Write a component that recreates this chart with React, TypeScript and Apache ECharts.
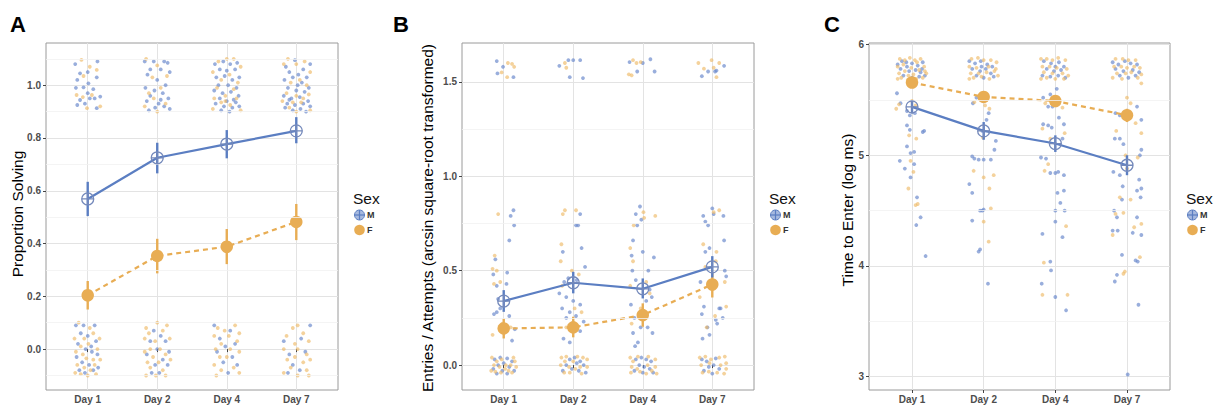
import React, { useEffect, useRef } from 'react';
import * as echarts from 'echarts';

const days = ['Day 1', 'Day 2', 'Day 4', 'Day 7'];
const dayPos = [1, 2, 3, 4];

// ---------- Panel A: Proportion Solving ----------
const aTicks = [0, 0.2, 0.4, 0.6, 0.8, 1.0];
const aMinor = [-0.1, 0.1, 0.3, 0.5, 0.7, 0.9, 1.1];
const aMeanM = [0.569, 0.725, 0.777, 0.827];
const aLoM = [0.504, 0.666, 0.723, 0.78];
const aHiM = [0.634, 0.782, 0.83, 0.879];
const aMeanF = [0.204, 0.353, 0.388, 0.482];
const aLoF = [0.15, 0.287, 0.322, 0.413];
const aHiF = [0.258, 0.418, 0.455, 0.55];
const aPtsM = [
  [0.82,1.08],[1.14,1.09],[1.0,1.05],[0.89,1.045],[0.85,1.02],[1.13,1.03],[1.01,1.007],[0.94,0.992],[1.08,0.985],[0.83,0.99],[1.18,0.957],[0.89,0.944],[1.03,0.95],[0.96,0.93],[1.13,0.913],[0.85,0.925],[1.1,0.95],[1.0,0.97],
  [1.82,1.09],[1.95,1.09],[2.1,1.09],[2.15,1.085],[1.9,1.06],[2.05,1.06],[2.18,1.05],[1.86,1.04],[2.0,1.02],[2.12,1.0],[1.83,0.99],[1.96,0.98],[2.08,0.97],[1.9,0.96],[2.16,0.95],[1.85,0.94],[2.02,0.93],[1.97,0.915],[2.1,0.92],[1.88,0.905],[2.18,0.91],[2.05,0.945],
  [2.83,1.08],[2.95,1.09],[3.05,1.08],[3.15,1.085],[2.9,1.06],[3.0,1.055],[3.12,1.06],[2.85,1.03],[2.97,1.035],[3.08,1.02],[3.18,1.03],[2.88,1.0],[3.02,1.0],[3.14,0.99],[2.82,0.98],[2.94,0.97],[3.06,0.975],[3.17,0.96],[2.9,0.95],[3.0,0.94],[3.1,0.945],[2.84,0.93],[2.96,0.92],[3.08,0.915],[3.18,0.92],[2.92,0.905],[3.04,0.9],[3.13,0.935],
  [3.85,1.07],[3.98,1.095],[4.1,1.06],[4.2,1.08],[3.9,1.05],[4.03,1.04],[4.15,1.03],[3.83,1.02],[3.95,1.03],[4.08,1.01],[4.18,0.99],[3.88,0.99],[4.0,0.98],[4.12,0.975],[3.82,0.96],[3.93,0.95],[4.05,0.955],[4.17,0.94],[3.87,0.93],[3.98,0.925],[4.1,0.93],[4.2,0.92],[3.84,0.915],[3.95,0.905],[4.06,0.91],[4.14,0.9],[3.9,0.945],[4.02,1.0],
  [0.83,0.09],[0.94,0.09],[1.1,0.09],[0.9,0.06],[1.0,0.05],[0.86,0.02],[1.12,0.03],[0.97,0.0],[1.06,-0.01],[0.84,-0.03],[1.14,-0.02],[0.92,-0.05],[1.02,-0.06],[0.88,-0.08],[1.08,-0.08],[0.96,-0.09],[1.15,-0.07],[1.05,0.01],
  [1.95,0.07],[2.05,0.05],[1.9,0.03],[2.12,0.03],[2.0,0.0],[2.17,-0.01],[1.85,-0.02],[2.08,-0.04],[1.97,-0.06],[2.15,-0.06],[1.92,-0.09],[2.03,-0.09],
  [2.82,0.09],[3.05,0.07],[2.9,0.04],[2.98,0.01],[3.12,0.02],[2.86,-0.01],[3.08,-0.03],[2.95,-0.05],[3.15,-0.06],[3.02,-0.09],
  [3.82,0.03],[4.07,0.04],[4.2,0.09],[3.9,-0.02],[4.13,-0.01],[3.95,-0.06],[4.05,-0.08],[3.88,-0.09],
];
const aPtsF = [
  [0.91,1.096],[1.03,1.07],[1.13,1.058],[0.94,1.035],[0.84,0.963],[1.06,0.963],[0.93,0.955],[1.18,0.92],[0.99,0.913],
  [1.84,1.1],[2.0,1.075],[1.93,1.03],[2.14,1.035],[1.88,0.97],[2.05,0.99],[1.95,0.95],[2.12,0.93],[1.82,0.92],[2.0,0.9],
  [3.0,1.1],[3.1,1.1],[2.88,1.09],[3.2,1.07],[2.8,1.05],[3.04,1.04],[2.92,1.02],[3.16,1.01],[2.86,0.99],[3.1,0.985],[2.98,0.96],[2.82,0.95],[3.14,0.95],[2.92,0.935],[3.05,0.925],[2.8,0.91],[3.2,0.905],[2.98,0.94],
  [3.88,1.1],[4.0,1.08],[4.12,1.09],[3.82,1.08],[4.2,1.05],[3.92,1.01],[4.05,1.02],[4.15,1.0],[3.86,0.97],[4.0,0.96],[4.1,0.95],[3.8,0.94],[3.95,0.935],[4.18,0.965],[4.07,0.935],[3.9,0.915],[4.2,0.905],[4.0,0.9],
  [0.87,0.1],[1.03,0.08],[0.81,0.04],[0.95,0.04],[1.08,0.06],[1.17,0.04],[0.9,0.01],[1.01,0.02],[1.14,0.0],[0.83,-0.01],[0.93,-0.02],[1.08,-0.04],[0.98,-0.035],[1.18,-0.04],[0.85,-0.06],[0.95,-0.07],[1.1,-0.06],[0.82,-0.09],[1.0,-0.1],[1.12,-0.095],[0.9,-0.095],[1.04,-0.08],
  [1.84,0.08],[2.0,0.1],[2.14,0.09],[1.88,0.06],[2.08,0.07],[1.82,0.04],[1.97,0.03],[2.18,0.04],[1.9,0.0],[2.04,0.0],[1.82,-0.01],[2.12,-0.02],[1.94,-0.03],[1.86,-0.05],[2.02,-0.05],[2.19,-0.04],[1.9,-0.07],[2.08,-0.08],[1.84,-0.1],[1.98,-0.1],[2.12,-0.1],
  [2.87,0.08],[2.97,0.07],[3.12,0.09],[3.18,0.06],[2.82,0.05],[3.03,0.05],[2.92,0.02],[3.15,0.03],[2.84,0.0],[3.05,0.0],[3.18,-0.01],[2.9,-0.03],[3.0,-0.03],[2.82,-0.06],[3.1,-0.07],[2.92,-0.08],[3.18,-0.09],[2.85,-0.1],
  [3.95,0.08],[4.02,0.09],[4.1,0.06],[3.86,0.05],[3.98,0.02],[4.18,0.03],[3.82,0.0],[4.02,0.0],[4.15,-0.02],[3.87,-0.04],[3.98,-0.03],[4.1,-0.05],[4.2,-0.04],[3.92,-0.07],[4.15,-0.08],[3.82,-0.09],[4.02,-0.1],[4.18,-0.1],
];

// ---------- Panel B: Entries / Attempts ----------
const bTicks = [0, 0.5, 1.0, 1.5];
const bMinor = [0.25, 0.75, 1.25];
const bMeanM = [0.339, 0.436, 0.404, 0.52];
const bLoM = [0.282, 0.38, 0.353, 0.464];
const bHiM = [0.397, 0.494, 0.459, 0.577];
const bMeanF = [0.194, 0.2, 0.265, 0.427];
const bLoF = [0.141, 0.147, 0.203, 0.358];
const bHiF = [0.247, 0.256, 0.327, 0.489];
const bPtsM = [
  [0.9,1.61],[0.99,1.58],[0.91,1.545],[1.14,1.525],
  [1.8,1.585],[1.93,1.615],[2.0,1.615],[2.1,1.615],[1.95,1.525],[2.14,1.52],
  [2.81,1.605],[2.92,1.555],[3.0,1.6],[3.11,1.62],[3.17,1.555],
  [3.85,1.53],[3.94,1.555],[4.04,1.555],[4.17,1.585],[4.06,1.56],
  [1.14,0.82],[1.1,0.79],[1.15,0.74],[1.08,0.66],[0.88,0.56],[0.85,0.48],[0.9,0.42],[1.05,0.49],[1.04,0.43],[0.92,0.35],[0.86,0.27],[0.9,0.28],[1.08,0.26],[1.16,0.19],[1.12,0.13],[0.95,0.3],
  [2.1,0.8],[2.04,0.74],[2.07,0.74],[1.85,0.6],[2.12,0.62],[2.17,0.52],[1.87,0.44],[1.93,0.46],[2.05,0.45],[1.8,0.38],[1.9,0.36],[2.0,0.34],[2.1,0.32],[1.84,0.3],[1.95,0.28],[2.04,0.26],[1.9,0.25],[1.98,0.22],[2.15,0.23],[1.86,0.14],[1.95,0.12],[2.1,0.18],
  [2.96,0.84],[2.9,0.8],[2.98,0.77],[2.92,0.74],[2.86,0.66],[3.0,0.6],[2.84,0.58],[3.16,0.57],[3.08,0.5],[2.85,0.5],[2.9,0.45],[3.1,0.4],[3.13,0.36],[3.05,0.34],[2.83,0.32],[2.88,0.25],[2.97,0.2],[2.86,0.17],[3.07,0.2],[2.93,0.12],[2.89,0.1],[3.14,0.17],
  [4.0,0.83],[3.87,0.79],[3.94,0.74],[4.02,0.8],[4.16,0.79],[3.9,0.76],[4.17,0.66],[3.96,0.62],[3.9,0.6],[4.18,0.5],[4.2,0.47],[3.83,0.44],[3.88,0.31],[3.85,0.27],[4.1,0.3],[4.15,0.25],[3.93,0.2],[4.07,0.22],[3.86,0.14],[4.12,0.3],[4.05,0.24],[3.96,0.16],
  [0.87,0.03],[0.95,0.04],[1.05,0.035],[1.12,0.02],[0.92,0.0],[1.0,0.01],[1.08,-0.01],[0.85,-0.02],[0.98,-0.03],[1.15,-0.03],[0.9,-0.045],[1.05,-0.045],
  [1.95,0.03],[2.02,0.04],[2.1,0.02],[1.9,0.0],[2.05,0.01],[2.15,0.0],[1.98,-0.02],[2.08,-0.03],[1.85,-0.03],[2.18,-0.04],
  [2.9,0.03],[2.98,0.04],[3.05,0.03],[3.12,0.02],[2.95,0.0],[3.02,-0.01],[3.1,-0.02],[2.88,-0.03],[3.0,-0.04],[3.15,-0.04],
  [3.85,0.03],[3.92,0.02],[4.05,0.035],[3.95,-0.01],[4.02,0.0],[3.88,-0.03],[4.1,-0.02],[4.0,-0.045],
];
const bPtsF = [
  [1.06,1.6],[1.12,1.595],[1.15,1.58],[1.05,1.525],[0.97,1.55],
  [1.88,1.6],[1.9,1.575],
  [2.86,1.615],[2.91,1.6],[2.8,1.54],[2.84,1.535],[2.97,1.605],
  [3.8,1.6],[3.88,1.57],[3.99,1.615],[4.1,1.6],[4.02,1.575],[4.06,1.525],
  [0.92,0.8],[0.87,0.58],[0.84,0.51],[0.86,0.43],[0.95,0.44],[0.84,0.16],[1.1,0.2],[0.98,0.22],[0.9,0.5],
  [1.88,0.82],[1.85,0.8],[2.04,0.82],[1.83,0.64],[1.82,0.55],[1.98,0.5],[2.08,0.48],[1.84,0.42],[2.02,0.3],[2.12,0.28],[1.9,0.2],
  [3.01,0.81],[3.02,0.78],[2.87,0.74],[3.18,0.79],[2.82,0.62],[2.86,0.55],[3.05,0.44],[2.82,0.42],[3.1,0.38],[2.97,0.3],[2.84,0.22],
  [4.02,0.81],[4.1,0.82],[3.87,0.64],[4.06,0.6],[4.05,0.55],[3.9,0.52],[4.18,0.44],[3.82,0.36],[4.2,0.31],[4.04,0.26],[3.92,0.2],
  [0.83,0.04],[0.9,0.02],[0.97,0.03],[1.03,0.0],[1.14,0.04],[0.86,0.0],[0.94,-0.01],[1.1,0.0],[1.18,-0.01],[0.82,-0.03],[0.96,-0.04],[1.02,-0.02],[1.12,-0.04],[0.88,-0.035],[1.07,-0.03],[1.16,0.02],
  [1.83,0.04],[1.88,0.02],[2.0,0.02],[2.14,0.04],[2.2,0.03],[1.82,0.0],[1.94,-0.01],[2.1,-0.01],[2.2,-0.01],[1.87,-0.04],[1.95,-0.04],[2.03,-0.02],[2.12,-0.045],[2.06,0.045],[1.9,0.045],
  [2.82,0.04],[2.86,0.02],[2.93,0.045],[3.08,0.045],[3.18,0.03],[2.84,-0.01],[2.92,-0.02],[3.07,0.0],[3.18,-0.01],[2.83,-0.04],[2.96,-0.035],[3.05,-0.045],[3.13,-0.03],[3.2,-0.045],
  [3.82,0.04],[3.9,0.045],[3.98,0.03],[4.1,0.04],[4.18,0.045],[3.84,0.0],[3.96,0.01],[4.12,0.0],[4.2,0.01],[3.86,-0.04],[3.95,-0.035],[4.07,-0.04],[4.17,-0.045],[4.2,-0.02],
];

// ---------- Panel C: Time to Enter ----------
const cTicks = [3, 4, 5, 6];
const cMinor = [3.5, 4.5, 5.5];
const cMeanM = [5.437, 5.22, 5.106, 4.91];
const cLoM = [5.377, 5.14, 5.03, 4.82];
const cHiM = [5.497, 5.3, 5.18, 5.0];
const cMeanF = [5.657, 5.527, 5.49, 5.362];
const cLoF = [5.62, 5.48, 5.44, 5.3];
const cHiF = [5.7, 5.57, 5.54, 5.42];
const cPtsM = [
  [0.8,5.82],[0.86,5.85],[0.93,5.8],[1.0,5.83],[1.08,5.81],[1.15,5.84],[0.84,5.78],[0.96,5.76],[1.05,5.77],[1.12,5.75],[0.88,5.72],[1.0,5.7],[1.1,5.71],[1.18,5.72],[0.92,5.84],[1.14,5.78],
  [0.79,5.56],[0.84,5.47],[0.93,5.4],[0.97,5.36],[1.04,5.38],[0.93,5.27],[0.97,5.23],[1.17,5.22],[1.15,5.21],[0.93,5.08],[0.98,5.02],[1.03,5.03],[0.83,4.95],[0.9,4.88],[1.03,4.92],[0.98,4.8],[1.07,4.62],[1.12,4.44],[1.06,4.37],[1.19,4.09],
  [1.8,5.85],[1.88,5.83],[1.96,5.85],[2.05,5.82],[2.12,5.8],[1.84,5.78],[1.95,5.76],[2.03,5.78],[2.1,5.74],[1.9,5.72],[2.0,5.7],[2.14,5.71],[1.97,5.8],
  [1.85,5.47],[1.9,5.52],[2.07,5.38],[2.04,5.32],[1.98,5.22],[2.17,5.13],[2.15,5.05],[1.84,4.99],[1.87,4.97],[1.93,4.96],[2.0,4.96],[2.1,4.96],[1.8,4.74],[1.84,4.66],[1.98,4.5],[1.95,4.5],[2.0,4.51],[1.84,4.41],[1.95,4.15],[1.93,4.13],[2.06,3.84],
  [2.84,5.85],[2.94,5.83],[3.05,5.84],[3.12,5.8],[2.88,5.78],[2.98,5.76],[3.08,5.77],[2.82,5.72],[2.93,5.71],[3.04,5.72],[3.14,5.7],[3.0,5.8],
  [2.83,5.52],[2.93,5.55],[3.02,5.6],[2.9,5.44],[2.96,5.44],[3.05,5.34],[3.12,5.28],[2.83,5.28],[2.9,5.27],[2.95,5.25],[3.1,5.15],[2.8,4.98],[2.87,4.97],[2.93,4.84],[3.0,4.84],[3.04,4.85],[3.12,4.82],[3.03,4.66],[3.12,4.68],[3.07,4.57],[3.13,4.5],[3.0,4.5],[3.0,4.4],[2.82,4.29],[3.1,4.26],[2.93,4.04],[2.94,3.96],[2.81,3.84],[3.0,3.72],[3.15,3.6],
  [3.8,5.84],[3.88,5.82],[3.97,5.85],[4.05,5.83],[4.14,5.82],[3.84,5.78],[3.95,5.76],[4.08,5.77],[4.17,5.75],[3.9,5.72],[4.02,5.7],[4.12,5.72],
  [3.84,5.38],[3.9,5.36],[4.14,5.44],[4.2,5.32],[3.83,5.15],[3.9,5.15],[3.95,5.1],[4.2,5.05],[4.18,5.0],[3.81,4.85],[3.9,4.82],[3.94,4.72],[4.17,4.78],[4.2,4.7],[4.14,4.68],[4.19,4.62],[3.82,4.5],[3.93,4.6],[3.86,4.44],[3.8,4.32],[3.87,4.32],[4.14,4.44],[4.08,4.3],[4.2,4.28],[3.93,4.1],[3.86,3.92],[3.83,3.86],[4.12,4.05],[4.15,4.04],[4.16,3.65],[4.01,3.02],
];
const cPtsF = [
  [0.83,5.87],[0.9,5.86],[0.97,5.88],[1.04,5.86],[1.12,5.87],[0.8,5.8],[0.88,5.82],[0.99,5.79],[1.07,5.84],[1.17,5.8],[0.82,5.74],[0.9,5.76],[1.02,5.73],[1.1,5.77],[1.18,5.76],[0.85,5.7],[0.95,5.72],[1.06,5.69],[1.15,5.7],[0.8,5.69],[0.94,5.68],[1.2,5.74],
  [0.78,5.42],[0.82,5.46],[1.0,5.49],[1.05,5.45],[0.96,5.18],[1.06,5.15],[0.98,4.95],[1.02,4.85],[0.95,4.7],[1.08,4.56],[1.05,4.55],
  [1.83,5.87],[1.92,5.88],[2.0,5.86],[2.1,5.86],[2.18,5.84],[1.8,5.8],[1.9,5.79],[2.07,5.8],[2.17,5.78],[1.82,5.74],[1.93,5.74],[2.04,5.75],[2.15,5.76],[1.86,5.7],[1.97,5.71],[2.08,5.69],[2.2,5.72],[1.8,5.69],
  [1.87,5.48],[2.02,5.45],[2.08,5.42],[1.99,5.16],[1.86,4.86],[2.0,4.8],[2.14,4.82],[2.08,4.7],[2.1,4.52],[2.0,4.4],[2.07,4.22],
  [2.8,5.87],[2.88,5.87],[2.96,5.86],[3.04,5.88],[3.14,5.86],[2.82,5.8],[2.92,5.8],[3.02,5.79],[3.16,5.78],[2.84,5.75],[2.96,5.74],[3.1,5.74],[3.18,5.72],[2.88,5.7],[3.0,5.69],[3.12,5.69],[2.8,5.69],
  [2.86,5.47],[3.0,5.52],[3.1,5.43],[2.82,5.24],[2.93,5.15],[3.13,5.2],[2.9,4.92],[2.85,4.86],[3.15,4.36],[2.84,4.03],[2.82,3.74],[3.17,3.74],
  [3.84,5.87],[3.94,5.87],[4.02,5.86],[4.12,5.86],[3.82,5.8],[3.92,5.8],[4.0,5.79],[4.1,5.8],[4.18,5.79],[3.86,5.74],[3.98,5.74],[4.06,5.75],[4.2,5.73],[3.8,5.7],[3.93,5.69],[4.15,5.7],[4.2,5.65],
  [4.0,5.52],[4.05,5.47],[4.12,5.29],[4.2,5.2],[3.85,5.22],[3.98,5.0],[4.0,4.88],[4.15,4.98],[3.9,4.62],[3.84,4.47],[3.95,4.48],[4.05,4.6],[4.1,4.35],[4.2,4.38],[3.8,4.28],[4.18,4.08],[3.97,3.95],[3.95,3.93],
];

const FONT = '"Liberation Sans", Arial, Helvetica, sans-serif';
const BLUE = '#5b7ec2';
const BLUE_RING = '#7489bb';
const ORANGE = '#e8ad54';
const PT_BLUE = 'rgba(104,136,204,0.85)';
const PT_ORANGE = 'rgba(238,185,100,0.8)';
const GRID_MAJOR = '#e3e3e3';
const GRID_MINOR = '#f1f1f1';

const M_SYMBOL = 'path://M10,0 A10,10 0 1,1 -10,0 A10,10 0 1,1 10,0 Z M-10,0 L10,0 M0,-10 L0,10';

function App() {
  const ref = useRef<HTMLDivElement>(null);

  useEffect(() => {
    if (!ref.current) return;
    const chart = echarts.init(ref.current, undefined, { renderer: 'svg' });

    const panels = [
      { grid: { left: 46, top: 43, width: 292, height: 347 }, yMin: -0.155, yMax: 1.16, ticks: aTicks, minor: aMinor,
        fmt: (v: number) => v.toFixed(1), ptsM: aPtsM, ptsF: aPtsF, meanM: aMeanM, loM: aLoM, hiM: aHiM, meanF: aMeanF, loF: aLoF, hiF: aHiF },
      { grid: { left: 462, top: 43, width: 292, height: 347 }, yMin: -0.132, yMax: 1.706, ticks: bTicks, minor: bMinor,
        fmt: (v: number) => v.toFixed(1), ptsM: bPtsM, ptsF: bPtsF, meanM: bMeanM, loM: bLoM, hiM: bHiM, meanF: bMeanF, loF: bLoF, hiF: bHiF },
      { grid: { left: 869, top: 43, width: 301, height: 347 }, yMin: 2.88, yMax: 6.014, ticks: cTicks, minor: cMinor,
        fmt: (v: number) => String(Math.round(v)), ptsM: cPtsM, ptsF: cPtsF, meanM: cMeanM, loM: cLoM, hiM: cHiM, meanF: cMeanF, loF: cLoF, hiF: cHiF },
    ];

    const grids: any[] = [];
    const xAxes: any[] = [];
    const yAxes: any[] = [];
    const series: any[] = [];

    const errRender = (color: string) => (params: any, api: any) => {
      const x = api.value(0);
      const p1 = api.coord([x, api.value(1)]);
      const p2 = api.coord([x, api.value(2)]);
      return { type: 'line', shape: { x1: p1[0], y1: p1[1], x2: p2[0], y2: p2[1] }, style: { stroke: color, lineWidth: 2.4 } };
    };

    const labelStyle = { color: '#4d4d4d', fontSize: 10, fontWeight: 'bold', fontFamily: FONT };

    panels.forEach((p, i) => {
      grids.push({ ...p.grid, show: true, backgroundColor: '#fff', borderColor: '#9a9a9a', borderWidth: 1, containLabel: false });
      xAxes.push({
        type: 'value', gridIndex: i, min: 0.4, max: 4.6,
        axisLine: { show: false },
        axisTick: { show: true, length: 3, lineStyle: { color: '#444' }, customValues: dayPos },
        axisLabel: { show: true, customValues: dayPos, formatter: (v: number) => days[Math.round(v) - 1] ?? '', margin: 4, ...labelStyle },
        splitLine: { show: true, lineStyle: { color: GRID_MAJOR, width: 1 } },
      });
      yAxes.push({
        type: 'value', gridIndex: i, min: p.yMin, max: p.yMax,
        axisLine: { show: false },
        axisTick: { show: true, length: 3, lineStyle: { color: '#444' }, customValues: p.ticks },
        axisLabel: { show: true, customValues: p.ticks, formatter: p.fmt, margin: 5, ...labelStyle },
        splitLine: { show: true, lineStyle: { color: GRID_MAJOR, width: 1 } },
      });
      // minor grid lines
      series.push({
        type: 'line', xAxisIndex: i, yAxisIndex: i, data: [], silent: true, z: 1,
        markLine: { silent: true, symbol: 'none', animation: false, label: { show: false },
          lineStyle: { color: GRID_MINOR, width: 0.8, type: 'solid' },
          data: p.minor.map((v) => ({ yAxis: v })) },
      });
      // jittered raw points
      series.push({ type: 'scatter', xAxisIndex: i, yAxisIndex: i, data: p.ptsM, symbolSize: 3.8, itemStyle: { color: PT_BLUE }, z: 2, silent: true });
      series.push({ type: 'scatter', xAxisIndex: i, yAxisIndex: i, data: p.ptsF, symbolSize: 3.8, itemStyle: { color: PT_ORANGE }, z: 2, silent: true });
      // error bars
      series.push({ type: 'custom', xAxisIndex: i, yAxisIndex: i, z: 3, silent: true,
        data: dayPos.map((d, k) => [d, p.loF[k], p.hiF[k]]), renderItem: errRender(ORANGE) });
      series.push({ type: 'custom', xAxisIndex: i, yAxisIndex: i, z: 3, silent: true,
        data: dayPos.map((d, k) => [d, p.loM[k], p.hiM[k]]), renderItem: errRender(BLUE) });
      // mean lines
      series.push({ type: 'line', xAxisIndex: i, yAxisIndex: i, z: 4, silent: true,
        data: dayPos.map((d, k) => [d, p.meanF[k]]),
        lineStyle: { color: ORANGE, width: 2.2, type: [5, 4] },
        symbol: 'circle', symbolSize: 12.5, showAllSymbol: true, itemStyle: { color: ORANGE, borderWidth: 0 } });
      series.push({ type: 'line', xAxisIndex: i, yAxisIndex: i, z: 5, silent: true,
        data: dayPos.map((d, k) => [d, p.meanM[k]]),
        lineStyle: { color: BLUE, width: 2.2 },
        symbol: M_SYMBOL, symbolSize: 12, showAllSymbol: true,
        itemStyle: { color: 'rgba(255,255,255,0)', borderColor: BLUE_RING, borderWidth: 1.3 } });
    });

    const letter = (t: string, x: number) => ({ type: 'text', x, y: 24, style: { text: t, fontSize: 22, fontWeight: 'bold', fontFamily: FONT, fill: '#000', align: 'left', verticalAlign: 'middle' } });
    const ytitle = (t: string, x: number, y: number) => ({ type: 'text', x, y, rotation: Math.PI / 2, style: { text: t, fontSize: 15.5, fontFamily: FONT, fill: '#000', align: 'center', verticalAlign: 'middle' } });
    const legend = (x: number) => ({
      type: 'group', x, y: 0, children: [
        { type: 'text', x: 0, y: 198, style: { text: 'Sex', fontSize: 15.5, fontFamily: FONT, fill: '#111', align: 'left', verticalAlign: 'middle' } },
        { type: 'circle', shape: { cx: 6.5, cy: 215, r: 5 }, style: { fill: '#a6b9df', stroke: BLUE, lineWidth: 1 } },
        { type: 'line', shape: { x1: 1.5, y1: 215, x2: 11.5, y2: 215 }, style: { stroke: BLUE, lineWidth: 1.2 } },
        { type: 'line', shape: { x1: 6.5, y1: 210, x2: 6.5, y2: 220 }, style: { stroke: BLUE, lineWidth: 1.2 } },
        { type: 'text', x: 14, y: 215, style: { text: 'M', fontSize: 9, fontWeight: 'bold', fontFamily: FONT, fill: '#333', align: 'left', verticalAlign: 'middle' } },
        { type: 'circle', shape: { cx: 6.5, cy: 230, r: 5.3 }, style: { fill: ORANGE } },
        { type: 'text', x: 14, y: 230, style: { text: 'F', fontSize: 9, fontWeight: 'bold', fontFamily: FONT, fill: '#333', align: 'left', verticalAlign: 'middle' } },
      ],
    });

    chart.setOption({
      animation: false,
      backgroundColor: '#fff',
      grid: grids,
      xAxis: xAxes,
      yAxis: yAxes,
      series,
      graphic: [
        letter('A', 10), letter('B', 393), letter('C', 824),
        ytitle('Proportion Solving', 17, 214),
        ytitle('Entries / Attempts (arcsin square-root transformed)', 427, 218),
        ytitle('Time to Enter (log ms)', 847, 210),
        legend(353), legend(769), legend(1186),
      ],
    });

    return () => chart.dispose();
  }, []);

  return <div ref={ref} style={{ position: 'fixed', left: 0, top: 0, width: 1213, height: 406 }} />;
}

export default App;
